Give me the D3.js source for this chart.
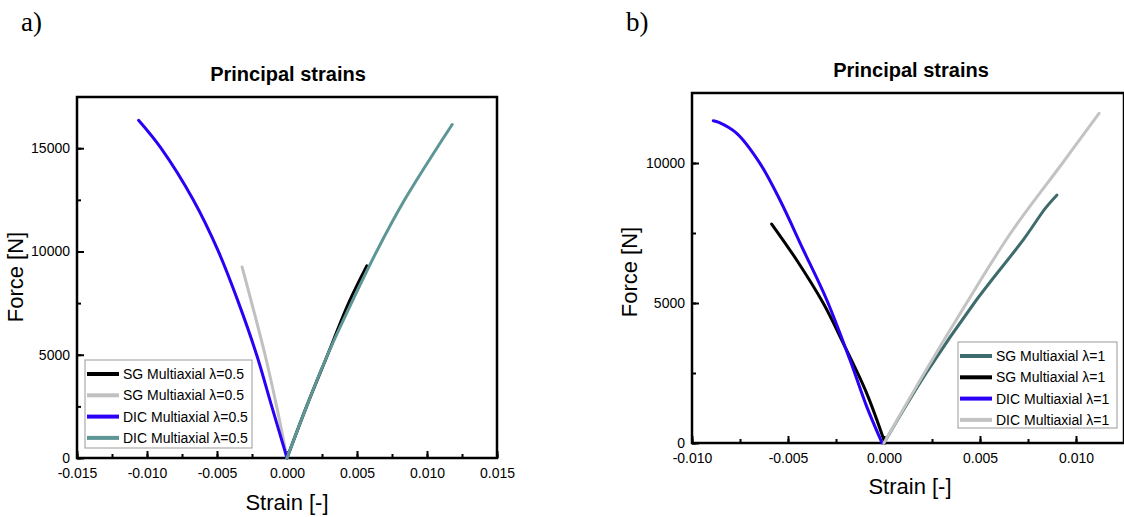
<!DOCTYPE html>
<html>
<head>
<meta charset="utf-8">
<script src="https://cdn.jsdelivr.net/npm/d3@7"></script>
<style>
  body { margin: 0; background: #fff; }
  svg { font-family: "Liberation Sans", Arial, sans-serif; }
</style>
</head>
<body>
<svg id="chart" width="1124" height="517"></svg>
<script>
// ---- panel a) lambda = 0.5  [strain, force]
var aSgBlack = [[0, 0], [0.0014, 2500], [0.0029, 5000], [0.0044, 7500], [0.0057, 9300]];
var aSgGray = [[0, 0], [-0.00074, 2500], [-0.00157, 5000], [-0.00252, 7500], [-0.00321, 9250]];
var aDicBlue = [[0, 0], [-0.00109, 2500], [-0.00217, 5000], [-0.00345, 7500], [-0.0049, 10000],
  [-0.0067, 12500], [-0.0090, 15000], [-0.0106, 16350]];
var aDicTeal = [[0, 0], [0.0014, 2500], [0.0029, 5000], [0.0046, 7500], [0.0064, 10000],
  [0.0084, 12500], [0.0107, 15000], [0.0118, 16150]];
var aLegend = ["SG Multiaxial \u03bb=0.5", "SG Multiaxial \u03bb=0.5", "DIC Multiaxial \u03bb=0.5", "DIC Multiaxial \u03bb=0.5"];
var aXTicks = [-0.015, -0.010, -0.005, 0, 0.005, 0.010, 0.015];
var aYTicks = [0, 5000, 10000, 15000];

// ---- panel b) lambda = 1
var bSgTeal = [[0, 0], [0.0022, 2500], [0.0047, 5000], [0.0073, 7300], [0.0084, 8380], [0.0090, 8850]];
var bSgBlack = [[0.00005, 0], [-0.0009, 1774], [-0.00212, 3560], [-0.00316, 4988], [-0.00455, 6536], [-0.00585, 7821]];
var bDicBlue = [[-0.0001, 0], [-0.0009, 1298], [-0.00177, 2964], [-0.00298, 5107], [-0.0042, 6893],
  [-0.00542, 8679], [-0.00646, 9989], [-0.00767, 11060], [-0.0086, 11450], [-0.00889, 11510]];
var bDicGray = [[0, 0], [0.0021, 2500], [0.0043, 5000], [0.0066, 7500], [0.0093, 10000], [0.0112, 11775]];
var bLegend = ["SG Multiaxial \u03bb=1", "SG Multiaxial \u03bb=1", "DIC Multiaxial \u03bb=1", "DIC Multiaxial \u03bb=1"];
var bXTicks = [-0.010, -0.005, 0, 0.005, 0.010];
var bYTicks = [0, 5000, 10000];

var svg = d3.select("#chart");

function drawPanel(p) {
  var g = svg.append("g");
  var x = d3.scaleLinear().domain(p.xDomain).range([p.left, p.right]);
  var y = d3.scaleLinear().domain(p.yDomain).range([p.bottom, p.top]);

  // minor ticks (every half step), inward
  var xMinor = d3.range(p.xDomain[0], p.xDomain[1] + 1e-9, p.xStep / 2);
  var yMinor = d3.range(0, p.yDomain[1], p.yStep / 2);
  g.append("g").attr("transform", "translate(0," + p.bottom + ")")
    .call(d3.axisBottom(x).tickValues(xMinor).tickSize(-4).tickFormat(""))
    .call(a => a.select(".domain").remove());
  g.append("g").attr("transform", "translate(" + p.left + ",0)")
    .call(d3.axisLeft(y).tickValues(yMinor).tickSize(-4).tickFormat(""))
    .call(a => a.select(".domain").remove());

  // major ticks + labels
  g.append("g").attr("class", "xa").attr("transform", "translate(0," + p.bottom + ")")
    .call(d3.axisBottom(x).tickValues(p.xTicks).tickSizeInner(-7).tickSizeOuter(0).tickPadding(10)
      .tickFormat(d => d.toFixed(3)))
    .call(a => a.select(".domain").remove());
  g.append("g").attr("class", "ya").attr("transform", "translate(" + p.left + ",0)")
    .call(d3.axisLeft(y).tickValues(p.yTicks).tickSizeInner(-7).tickSizeOuter(0).tickPadding(7)
      .tickFormat(d3.format("d")))
    .call(a => a.select(".domain").remove());
  g.selectAll(".tick line").attr("stroke", "#000").attr("stroke-width", 2);
  g.selectAll(".tick text").attr("font-size", 14).attr("fill", "#000")
    .attr("font-family", "'Liberation Sans', Arial, sans-serif");

  // frame
  g.append("rect")
    .attr("x", p.left).attr("y", p.top)
    .attr("width", p.right - p.left).attr("height", p.bottom - p.top)
    .attr("fill", "none").attr("stroke", "#000").attr("stroke-width", 2.5);

  // curves
  var line = d3.line()
    .x(d => x(d[0]))
    .y(d => y(d[1]))
    .curve(d3.curveCatmullRom.alpha(0.5));
  p.series.forEach(function(s, i) {
    g.append("path")
      .datum(s)
      .attr("d", line)
      .attr("fill", "none")
      .attr("stroke", p.colors[i])
      .attr("stroke-width", 3)
      .attr("stroke-linecap", "round");
  });

  // legend
  var lg = g.append("g");
  lg.append("rect")
    .attr("x", p.legX).attr("y", p.legY).attr("width", p.legW).attr("height", p.legH)
    .attr("fill", "#fff").attr("stroke", "#999").attr("stroke-width", 1);
  p.legend.forEach(function(t, i) {
    var yy = p.legY + 14 + i * 21.3;
    lg.append("line")
      .attr("x1", p.legX + 2).attr("x2", p.legX + 34)
      .attr("y1", yy).attr("y2", yy)
      .attr("stroke", p.colors[i]).attr("stroke-width", 4);
    lg.append("text")
      .attr("x", p.legX + 38).attr("y", yy + 5)
      .attr("font-size", 14).text(t);
  });

  // texts
  g.append("text")
    .attr("x", p.titleX).attr("y", p.top - 16)
    .attr("text-anchor", "middle").attr("font-size", 20).attr("font-weight", "bold")
    .text("Principal strains");
  g.append("text")
    .attr("x", (p.left + Math.min(p.right, 1124)) / 2 + p.xLabDx).attr("y", p.xLabY)
    .attr("text-anchor", "middle").attr("font-size", 22)
    .text("Strain [-]");
  g.append("text")
    .attr("transform", "translate(" + p.yLabX + "," + p.yLabY + ") rotate(-90)")
    .attr("text-anchor", "middle").attr("font-size", 22)
    .text("Force [N]");
  g.append("text")
    .attr("x", p.tagX).attr("y", 31)
    .attr("font-family", "'Liberation Serif', 'Times New Roman', serif")
    .attr("font-size", 27)
    .text(p.tag);
}

drawPanel({
  tag: "a)", tagX: 21,
  left: 77, right: 497, top: 97, bottom: 458,
  xDomain: [-0.015, 0.015], yDomain: [0, 17480],
  xStep: 0.005, yStep: 5000,
  xTicks: aXTicks, yTicks: aYTicks,
  series: [aSgBlack, aSgGray, aDicBlue, aDicTeal],
  colors: ["#000000", "#c0c0c0", "#2b00f5", "#5e9696"],
  legend: aLegend,
  legX: 85, legY: 360, legW: 167, legH: 88,
  titleX: 288, xLabDx: 0, xLabY: 510, yLabX: 23, yLabY: 277
});

drawPanel({
  tag: "b)", tagX: 626,
  left: 692, right: 1124, top: 93, bottom: 443,
  xDomain: [-0.010, 0.0125], yDomain: [0, 12500],
  xStep: 0.005, yStep: 5000,
  xTicks: bXTicks, yTicks: bYTicks,
  series: [bSgTeal, bSgBlack, bDicBlue, bDicGray],
  colors: ["#3e6b6b", "#000000", "#2b00f5", "#c3c3c3"],
  legend: bLegend,
  legX: 958, legY: 342, legW: 159, legH: 86,
  titleX: 911, xLabDx: 2, xLabY: 494, yLabX: 637, yLabY: 272
});
</script>
</body>
</html>
